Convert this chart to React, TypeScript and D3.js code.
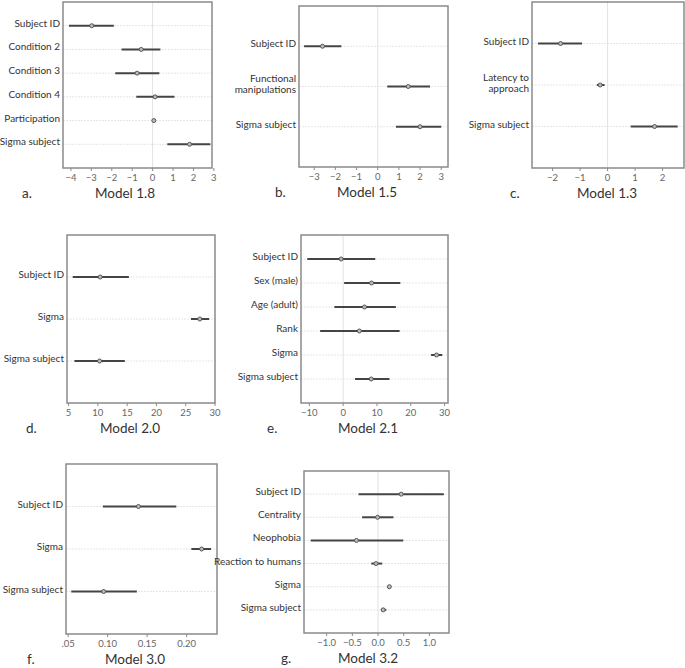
import React from 'react';
import * as d3 from 'd3';

// Model 1.8
const labelsA = ['Subject ID', 'Condition 2', 'Condition 3', 'Condition 4', 'Participation', 'Sigma subject'];
const estA = [-2.98, -0.56, -0.76, 0.12, 0.06, 1.81];
const loA = [-4.1, -1.52, -1.83, -0.8, 0.01, 0.72];
const hiA = [-1.9, 0.38, 0.33, 1.07, 0.11, 2.83];
const ticksA = [-4, -3, -2, -1, 0, 1, 2, 3];

// Model 1.5
const labelsB = ['Subject ID', 'Functional\nmanipulations', 'Sigma subject'];
const estB = [-2.61, 1.44, 2.0];
const loB = [-3.48, 0.45, 0.86];
const hiB = [-1.72, 2.47, 3.0];
const ticksB = [-3, -2, -1, 0, 1, 2, 3];

// Model 1.3
const labelsC = ['Subject ID', 'Latency to\napproach', 'Sigma subject'];
const estC = [-1.71, -0.27, 1.71];
const loC = [-2.53, -0.39, 0.84];
const hiC = [-0.93, -0.11, 2.55];
const ticksC = [-2, -1, 0, 1, 2];

// Model 2.0
const labelsD = ['Subject ID', 'Sigma', 'Sigma subject'];
const estD = [10.4, 27.4, 10.3];
const loD = [5.7, 25.9, 6.0];
const hiD = [15.3, 29.0, 14.6];
const ticksD = [5, 10, 15, 20, 25, 30];

// Model 2.1
const labelsE = ['Subject ID', 'Sex (male)', 'Age (adult)', 'Rank', 'Sigma', 'Sigma subject'];
const estE = [-0.6, 8.4, 6.3, 4.8, 27.6, 8.3];
const loE = [-10.6, 0.3, -2.6, -6.8, 26.0, 3.5];
const hiE = [9.5, 16.9, 15.6, 16.7, 29.3, 13.7];
const ticksE = [-10, 0, 10, 20, 30];

// Model 3.0
const labelsF = ['Subject ID', 'Sigma', 'Sigma subject'];
const estF = [0.139, 0.219, 0.095];
const loF = [0.094, 0.206, 0.054];
const hiF = [0.187, 0.231, 0.137];
const ticksF = [0.05, 0.1, 0.15, 0.2];
const tickTextF = ['.05', '0.10', '0.15', '0.20'];

// Model 3.2
const labelsG = ['Subject ID', 'Centrality', 'Neophobia', 'Reaction to humans', 'Sigma', 'Sigma subject'];
const estG = [0.45, -0.01, -0.42, -0.04, 0.22, 0.1];
const loG = [-0.38, -0.31, -1.31, -0.13, 0.19, 0.06];
const hiG = [1.28, 0.3, 0.49, 0.08, 0.25, 0.16];
const ticksG = [-1, -0.5, 0, 0.5, 1];

const panels = [
  { letter: 'a.', title: 'Model 1.8', labels: labelsA, est: estA, lo: loA, hi: hiA, ticks: ticksA, fmt: d3.format('d'),
    box: [63, 212, 2, 168], domain: [-4.39, 2.91], titleX: 125, letterX: 22 },
  { letter: 'b.', title: 'Model 1.5', labels: labelsB, est: estB, lo: loB, hi: hiB, ticks: ticksB, fmt: d3.format('d'),
    box: [299, 448, 6, 167], domain: [-3.72, 3.32], titleX: 367, letterX: 275 },
  { letter: 'c.', title: 'Model 1.3', labels: labelsC, est: estC, lo: loC, hi: hiC, ticks: ticksC, fmt: d3.format('d'),
    box: [532, 684, 2, 168], domain: [-2.75, 2.78], titleX: 607, letterX: 510 },
  { letter: 'd.', title: 'Model 2.0', labels: labelsD, est: estD, lo: loD, hi: hiD, ticks: ticksD, fmt: d3.format('d'),
    box: [67, 215, 235, 403], domain: [4.73, 30.0], titleX: 130, letterX: 26 },
  { letter: 'e.', title: 'Model 2.1', labels: labelsE, est: estE, lo: loE, hi: hiE, ticks: ticksE, fmt: d3.format('d'),
    box: [301, 448, 235, 403], domain: [-12.46, 31.0], titleX: 368, letterX: 267 },
  { letter: 'f.', title: 'Model 3.0', labels: labelsF, est: estF, lo: loF, hi: hiF, ticks: ticksF, fmt: (d, i) => tickTextF[i],
    box: [66, 217, 464, 634], domain: [0.0473, 0.2385], titleX: 135, letterX: 27 },
  { letter: 'g.', title: 'Model 3.2', labels: labelsG, est: estG, lo: loG, hi: hiG, ticks: ticksG, fmt: d3.format('.1f'),
    box: [304, 449, 471, 633], domain: [-1.44, 1.38], titleX: 368, letterX: 281 },
];

const font = 'Lato, "Open Sans", sans-serif';

function Panel({ p }) {
  const [x0, x1, y0, y1] = p.box;
  const x = d3.scaleLinear().domain(p.domain).range([x0, x1]);
  const y = d3.scalePoint().domain(p.labels).range([y0, y1]).padding(1);
  return (
    <g>
      {/* grid */}
      {p.labels.map(l => (
        <line key={'g' + l} x1={x0} x2={x1} y1={y(l)} y2={y(l)} stroke="#e6e6e6" strokeDasharray="2,1" />
      ))}
      {p.domain[0] < 0 && p.domain[1] > 0 && (
        <line x1={x(0)} x2={x(0)} y1={y0} y2={y1} stroke="#e2e2e2" />
      )}
      {/* intervals */}
      {p.labels.map((l, i) => (
        <g key={'m' + l}>
          <line x1={x(p.lo[i])} x2={x(p.hi[i])} y1={y(l)} y2={y(l)} stroke="#444" strokeWidth={2} />
          <circle cx={x(p.est[i])} cy={y(l)} r={2} fill="#bdbdbd" stroke="#555" strokeWidth={1} />
        </g>
      ))}
      <rect x={x0} y={y0} width={x1 - x0} height={y1 - y0} fill="none" stroke="#8a8a8a" strokeWidth={1.5} />
      {/* x axis */}
      {p.ticks.map((t, i) => (
        <g key={'t' + t}>
          <line x1={x(t)} x2={x(t)} y1={y1} y2={y1 + 3} stroke="#8a8a8a" />
          <text x={x(t)} y={y1 + 13} textAnchor="middle" fontSize={9.5} fill="#666">{p.fmt(t, i)}</text>
        </g>
      ))}
      {/* row labels */}
      {p.labels.map(l => {
        const lines = l.split('\n');
        const top = y(l) + 1 - (lines.length - 1) * 5.5;
        return (
          <text key={'l' + l} x={x0 - 3} y={top} textAnchor="end" fontSize={10} fill="#333">
            {lines.map((s, j) => (
              <tspan key={j} x={x0 - 3} y={top + j * 11}>{s}</tspan>
            ))}
          </text>
        );
      })}
      <text x={p.titleX} y={y1 + 30} textAnchor="middle" fontSize={13.5} fill="#333">{p.title}</text>
      <text x={p.letterX} y={y1 + 30} fontSize={13.5} fill="#333">{p.letter}</text>
    </g>
  );
}

export default function App() {
  return (
    <svg width={685} height={668} style={{ position: 'absolute', left: 0, top: 0, background: '#fff' }} fontFamily={font}>
      <rect width={685} height={668} fill="#fff" />
      {panels.map(p => <Panel key={p.title} p={p} />)}
    </svg>
  );
}
